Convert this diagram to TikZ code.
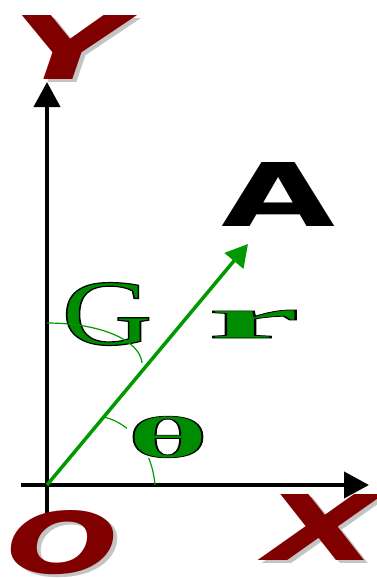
\documentclass[tikz,border=0pt]{standalone}
\usepackage{fontspec}
\setmainfont{Liberation Serif}
\newfontfamily\axisfont{DejaVu Sans}
\usepackage{graphicx}
\definecolor{axisred}{HTML}{800000}
\definecolor{shadowgray}{HTML}{C4C4C4}
\definecolor{vecgreen}{HTML}{009900}
\definecolor{labelgreen}{HTML}{008C00}
\usetikzlibrary{arrows.meta}

\newcommand{\outlinetext}[1]{\special{pdf:literal direct 2 Tr 1 w 0 0 0 RG}#1\special{pdf:literal direct 0 Tr}}

\tikzset{
  axis/.style={draw=black, line width=4pt, -{Triangle[length=25pt,width=26pt]}},
  vector/.style={draw=vecgreen, line width=3.5pt, -{Triangle[length=22pt,width=24pt]}},
  anglearc/.style={draw=vecgreen, line width=1.2pt},
  axislabel/.style={inner sep=0pt, text=axisred,
        font=\axisfont\bfseries\itshape\fontsize{60}{60}\selectfont},
  labelshadow/.style={axislabel, text=shadowgray},
  tiplabel/.style={inner sep=0pt, text=black,
        font=\axisfont\bfseries\fontsize{60}{60}\selectfont},
  greenlabel/.style={inner sep=0pt, text=labelgreen,
        font=\bfseries\fontsize{80}{80}\selectfont}
}

\begin{document}
\begin{tikzpicture}[x=1pt,y=-1pt]
  \useasboundingbox (0,0) rectangle (376,578);

  %% Axes
  \coordinate (origin) at (47,485);
  \coordinate (xstart) at (21,485);
  \coordinate (xend)   at (369,485);
  \coordinate (ystart) at (47,513);
  \coordinate (yend)   at (47,82);
  \draw[axis] (xstart) -- (xend);
  \draw[axis] (ystart) -- (yend);

  %% Axis labels with shadow
  \node[labelshadow] (yshadow) at (73,50)  {\resizebox{112pt}{64pt}{Y}};
  \node[axislabel]   (ylabel)  at (69,47)  {\resizebox{112pt}{64pt}{Y}};
  \node[labelshadow] (xshadow) at (326,530) {\resizebox{113pt}{66pt}{X}};
  \node[axislabel]   (xlabel)  at (322,527) {\resizebox{113pt}{66pt}{X}};
  \node[labelshadow] (oshadow) at (67,546) {\resizebox{112pt}{63pt}{O}};
  \node[axislabel]   (olabel)  at (63,543) {\resizebox{112pt}{63pt}{O}};

  %% Angle labels
  \node[greenlabel, font=\mdseries\fontsize{80}{80}\selectfont] (glabel) at (107,314)
    {\resizebox{91pt}{62pt}{\outlinetext{G}}};
  \node[greenlabel] (rlabel) at (254,324) {\resizebox{92pt}{28pt}{\outlinetext{r}}};
  \draw[anglearc] (47,323) .. controls (100,323) and (140,340) .. (142,363);

  \draw[anglearc] (104,417) .. controls (132,424) and (152,450) .. (155,485);
  \node[greenlabel, fill=white] (thetalabel) at (168,437)
    {\resizebox{82pt}{41pt}{\outlinetext{θ}}};

  %% Vector A
  \node[tiplabel] (alabel) at (279,194) {\resizebox{114pt}{64pt}{A}};
  \coordinate (tip) at (248,244);
  \draw[vector] (origin) -- (tip);

\end{tikzpicture}
\end{document}
